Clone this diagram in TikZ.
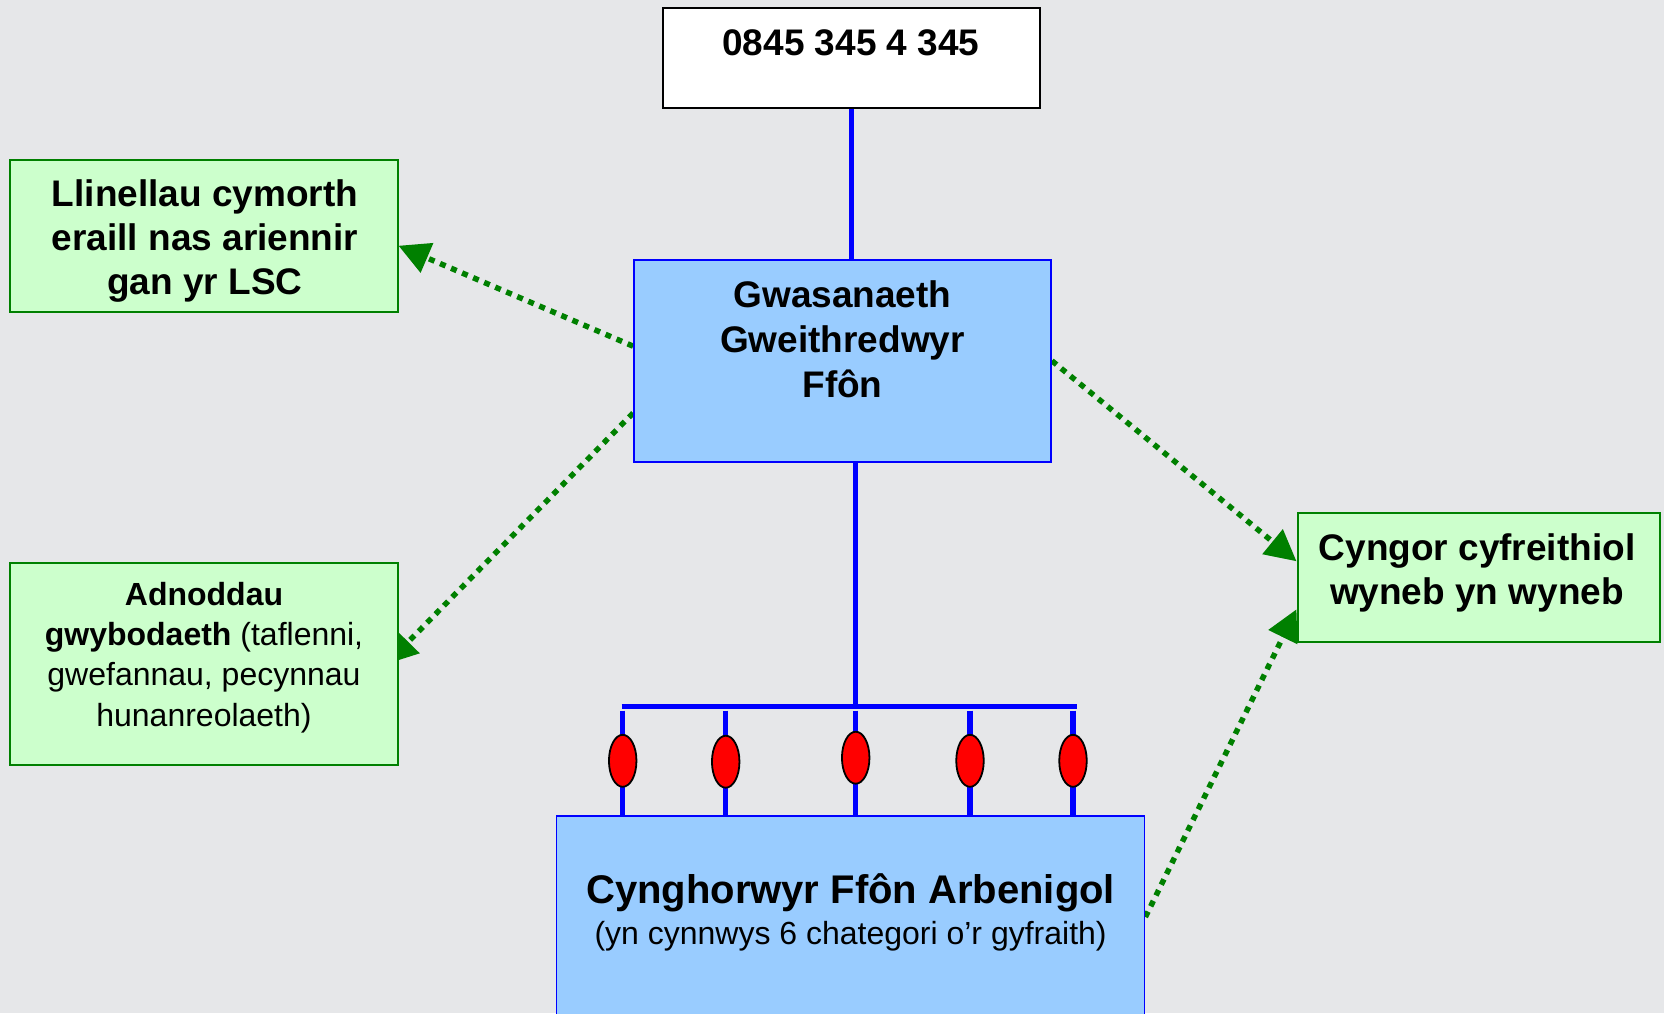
\documentclass[tikz,border=0pt]{standalone}
\usepackage{fontspec}
\setmainfont{Liberation Sans}
\usepackage{xcolor}
\usetikzlibrary{positioning,arrows.meta,shapes.geometric}
\definecolor{pageColor}{RGB}{230, 231, 233}
\definecolor{serviceBoxColor}{RGB}{153, 204, 255}
\definecolor{serviceLineColor}{RGB}{0, 0, 255}
\definecolor{otherBoxColor}{RGB}{204, 255, 204}
\definecolor{otherLineColor}{RGB}{0, 128, 0}
\definecolor{ovalColor}{RGB}{255, 0, 0}

\pgfdeclarelayer{background}
\pgfdeclarelayer{links}
\pgfsetlayers{background,links,main}

\begin{document}
\begin{tikzpicture}[
		x=1pt, y=-1pt,
		% Define styles for nodes
		phonebox/.style={
				draw=black,
				rectangle,
				line width=2pt,
				fill=white,
				inner sep=0pt
			},
		servicebox/.style={
				draw=serviceLineColor,
				rectangle,
				line width=1.8pt,
				fill=serviceBoxColor,
				inner sep=0pt
			},
		otherbox/.style={
				draw=otherLineColor,
				rectangle,
				line width=2pt,
				fill=otherBoxColor,
				inner sep=0pt
			},
		bigtext/.style={
				font=\fontsize{37}{44}\selectfont\bfseries,
				align=center,
				inner sep=0pt
			},
		smalltext/.style={
				font=\fontsize{32}{40.3}\selectfont,
				align=center,
				inner sep=0pt
			},
		oval/.style={
				ellipse,
				draw=black,
				line width=1.8pt,
				fill=ovalColor,
				minimum width=27.5pt,
				minimum height=52pt,
				inner sep=0pt
			},
		trunk/.style={
				draw=serviceLineColor,
				line width=5.5pt
			},
		linkarrow/.style={
				draw=otherLineColor,
				line width=5.5pt,
				dash pattern=on 6pt off 6pt,
				-{Triangle[length=31pt,width=31pt]}
			}
	]

	% Page background
	\begin{pgfonlayer}{background}
		\fill[pageColor] (0,0) rectangle (1664,1013);
	\end{pgfonlayer}
	\useasboundingbox (0,0) rectangle (1664,1013);

	% Phone number
	\node[phonebox, minimum width=377pt, minimum height=100.5pt] (phone) at (851.5,58.2) {};
	\node[bigtext] (phoneText) at (851,43) {0845 345 4 345};

	% Operator service
	\node[servicebox, minimum width=417pt, minimum height=201.7pt] (operator) at (842.5,360.8) {};
	\node[bigtext, font=\fontsize{37}{45}\selectfont\bfseries] (operatorText) at (842.5,339.5) {Gwasanaeth\\Gweithredwyr\\Ffôn};

	% Specialist advisers
	\node[servicebox, minimum width=588pt, minimum height=264pt] (advisers) at (850.5,948) {};
	\node[align=center, inner sep=0pt, font=\fontsize{40}{41}\selectfont] (advisersText) at (850.6,912) {%
		{\bfseries Cynghorwyr Ffôn Arbenigol}\\
		{\fontsize{32}{41}\selectfont (yn cynnwys 6 chategori o’r gyfraith)}};

	% Other help
	\node[otherbox, minimum width=388pt, minimum height=152pt] (helplines) at (203.5,235.5) {};
	\node[bigtext] (helplinesText) at (205,241.3) {Llinellau cymorth\\eraill nas ariennir\\gan yr LSC};

	\node[otherbox, minimum width=388pt, minimum height=202pt] (resources) at (203.5,664) {};
	\node[smalltext] (resourcesText) at (204,657.5) {%
		{\bfseries Adnoddau}\\
		{\bfseries gwybodaeth} (taflenni,\\
		gwefannau, pecynnau\\
		hunanreolaeth)};

	\node[otherbox, minimum width=362pt, minimum height=129pt] (faceToFace) at (1478.5,577.2) {};
	\node[bigtext] (faceToFaceText) at (1477,572.8) {Cyngor cyfreithiol\\wyneb yn wyneb};

	% Blue trunk lines
	\draw[trunk] (phone.south) -- (phone.south |- operator.north);
	\coordinate (busMid) at (855.7,706.5);
	\coordinate (busLeft) at (621.7,706.5);
	\coordinate (busRight) at (1076.7,706.5);
	\draw[trunk] (busMid |- operator.south) -- (busMid);
	\draw[trunk] (busLeft) -- (busRight);

	% Drops with ovals
	\foreach \dx/\dy [count=\i] in {622.7/760.8, 725.7/761.7, 855.7/757.7, 970/760.8, 1073/760.8} {
		\coordinate (dropTop\i) at (\dx,710.7);
		\draw[trunk] (dropTop\i) -- (dropTop\i |- advisers.north);
		\node[oval] (oval\i) at (\dx,\dy) {};
	}

	% ARROWS: dotted links behind the boxes
	\begin{pgfonlayer}{links}
		\draw[linkarrow] (operator.176) -- (helplines.-3);
		\draw[linkarrow] (operator.194) -- ([xshift=-12pt]resources.east);
		\draw[linkarrow] (operator.east) -- (faceToFace.175);
		\draw[linkarrow] (advisers.6) -- (faceToFace.190);
	\end{pgfonlayer}

\end{tikzpicture}
\end{document}
